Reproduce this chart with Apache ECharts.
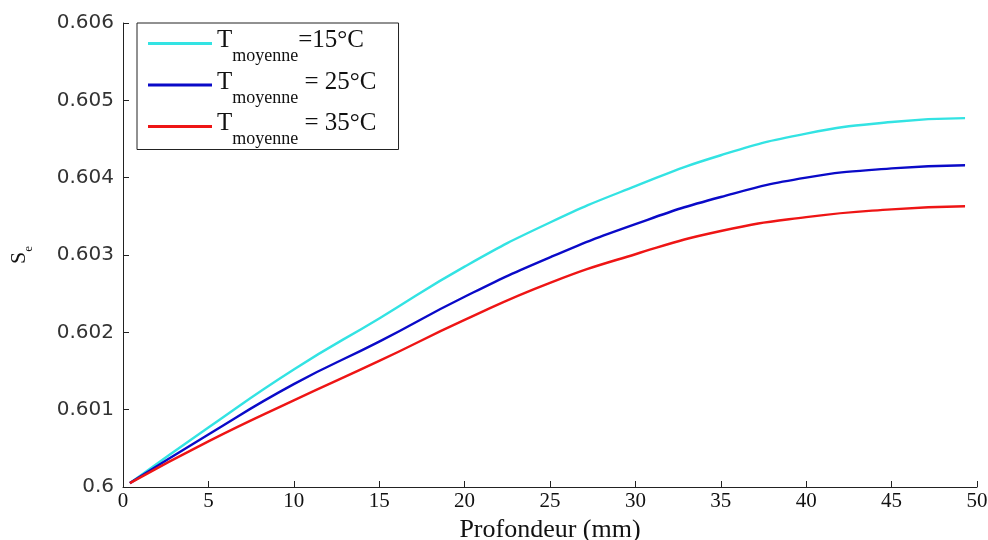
<!DOCTYPE html>
<html>
<head>
<meta charset="utf-8">
<script src="https://cdn.jsdelivr.net/npm/echarts@6/dist/echarts.min.js"></script>
<style>html,body{margin:0;padding:0;background:#fff}#c{width:988px;height:540px}</style>
</head>
<body>
<div id="c"></div>
<script>
const depth = [0.4, 5, 10, 15, 20, 25, 30, 35, 40, 45, 49.3];
const se15 = [0.60005, 0.60077, 0.60152, 0.60218, 0.60285, 0.60342, 0.60389, 0.60429, 0.60457, 0.60472, 0.60477];
const se25 = [0.60005, 0.60068, 0.60133, 0.60188, 0.60246, 0.60297, 0.60340, 0.60375, 0.60400, 0.60412, 0.60416];
const se35 = [0.60005, 0.60059, 0.60112, 0.60163, 0.60216, 0.60264, 0.60301, 0.60331, 0.60349, 0.60359, 0.60363];
const seriesNames = ['15', '25', '35'];
const legendTexts = ['=15°C', ' = 25°C', ' = 35°C'];
const colors = ['#33e3e3', '#0a0ac8', '#ee1515'];

const chart = echarts.init(document.getElementById('c'));
const mk = (arr) => depth.map((d, i) => [d, arr[i]]);
const allData = [se15, se25, se35];
const serif = 'Liberation Serif';
chart.setOption({
  animation: false,
  backgroundColor: '#fff',
  grid: { left: 123, right: 11, top: 23, bottom: 53, containLabel: false, outerBoundsMode: 'none' },
  legend: {
    orient: 'vertical',
    left: 137, top: 23,
    padding: [5, 22, 1, 11],
    itemGap: 4,
    itemWidth: 64, itemHeight: 3,
    icon: 'rect',
    borderColor: '#222', borderWidth: 1, backgroundColor: '#fff',
    data: seriesNames,
    formatter: function (name) {
      const i = seriesNames.indexOf(name);
      return '{a|T}{b|moyenne}{a|' + legendTexts[i] + '}';
    },
    textStyle: {
      rich: {
        a: { fontFamily: serif, fontSize: 25, color: '#111', padding: [0, 0, 6, 0] },
        b: { fontFamily: serif, fontSize: 18, color: '#111', padding: [26, 0, 0, 0] }
      }
    }
  },
  xAxis: {
    type: 'value', min: 0, max: 50, interval: 5,
    name: 'Profondeur (mm)', nameLocation: 'middle', nameGap: 25,
    nameTextStyle: { fontFamily: serif, fontSize: 26, color: '#111' },
    axisLine: { lineStyle: { color: '#222', width: 1 } },
    axisTick: { inside: true, length: 6, lineStyle: { color: '#222' } },
    axisLabel: { fontFamily: serif, fontSize: 21, color: '#111', margin: 4 },
    splitLine: { show: false }
  },
  yAxis: {
    type: 'value', min: 0.6, max: 0.606, interval: 0.001,
    name: '{s|S}{e|e}', nameLocation: 'middle', nameGap: 87, nameRotate: 90,
    nameTextStyle: {
      rich: {
        s: { fontFamily: serif, fontSize: 22, color: '#111', padding: [0, 0, 6, 0] },
        e: { fontFamily: serif, fontSize: 13, color: '#111', padding: [14, 0, 0, 0] }
      }
    },
    axisLine: { show: true, lineStyle: { color: '#222', width: 1 } },
    axisTick: { show: true, inside: true, length: 6, lineStyle: { color: '#222' } },
    axisLabel: {
      fontFamily: 'DejaVu Sans', fontSize: 20, color: '#333', margin: 9,
      formatter: v => String(+v.toFixed(3))
    },
    splitLine: { show: false }
  },
  series: allData.map((arr, i) => ({
    name: seriesNames[i], type: 'line', smooth: true, showSymbol: false,
    data: mk(arr),
    lineStyle: { color: colors[i], width: 2.4 },
    itemStyle: { color: colors[i] }
  }))
});
</script>
</body>
</html>
